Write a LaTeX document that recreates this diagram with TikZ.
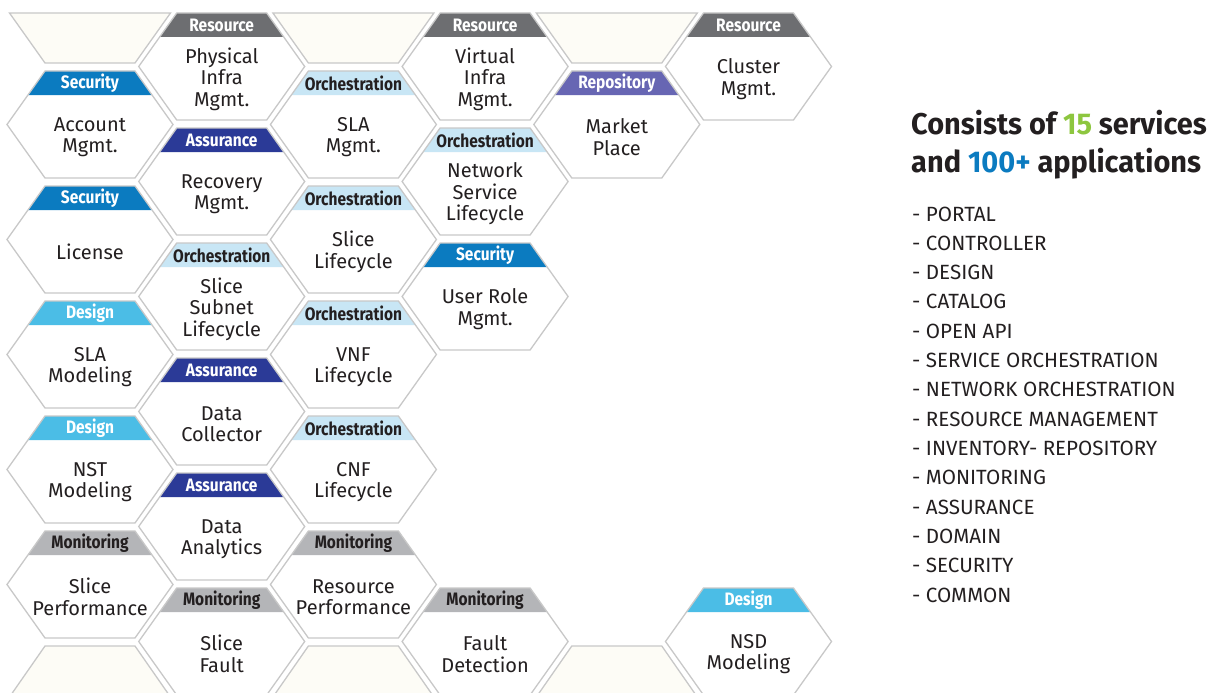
\documentclass[tikz,border=0pt]{standalone}
\usepackage{fontspec}
\setmainfont{Fira Sans}
\newfontfamily\bandfont{Fira Sans}[FakeStretch=0.86]
\newfontfamily\bodyfont{Fira Sans}
\newfontfamily\titlefont{Fira Sans}[FakeStretch=0.965]
\newfontfamily\listfont{Fira Sans}
\definecolor{hexgray}{HTML}{C8C8C8}
\definecolor{cream}{HTML}{FDFCF6}
\definecolor{cRes}{HTML}{6D6E71}
\definecolor{cSec}{HTML}{0B7BC0}
\definecolor{cAsr}{HTML}{2B3A97}
\definecolor{cOrc}{HTML}{C8E6F5}
\definecolor{cRep}{HTML}{6766B3}
\definecolor{cDes}{HTML}{4BBDE6}
\definecolor{cMon}{HTML}{B4B5B8}
\definecolor{ink}{HTML}{231F20}
\definecolor{cGreen}{HTML}{8DC63F}
\definecolor{cBlue}{HTML}{0B7BC0}
\tikzset{
  hexline/.style={draw=hexgray, line width=1.3pt, line join=miter},
  stubfill/.style={fill=cream},
  bandtxt/.style={inner sep=0pt, font=\bandfont\bfseries\fontsize{18}{19}\selectfont},
  bodytxt/.style={inner sep=0pt, align=center, text=ink, font=\bodyfont\fontsize{20}{21.5}\selectfont},
  res band/.style={fill=cRes}, res text/.style={text=white},
  sec band/.style={fill=cSec}, sec text/.style={text=white},
  asr band/.style={fill=cAsr}, asr text/.style={text=white},
  orc band/.style={fill=cOrc}, orc text/.style={text=ink},
  rep band/.style={fill=cRep}, rep text/.style={text=white},
  des band/.style={fill=cDes}, des text/.style={text=white},
  mon band/.style={fill=cMon}, mon text/.style={text=ink},
  listtxt/.style={anchor=west, inner sep=0pt, text=ink, font=\listfont\fontsize{20.6}{22}\selectfont},
  titletxt/.style={anchor=base west, inner sep=0pt, text=ink, font=\titlefont\bfseries\fontsize{30}{32}\selectfont},
}
% name, cx, cy, category, band text, body text
\newcommand\hexcell[6]{%
  \pgfmathsetmacro\hxL{#2-83}\pgfmathsetmacro\hxR{#2+83}%
  \pgfmathsetmacro\hxA{#2-45}\pgfmathsetmacro\hxB{#2+45}%
  \pgfmathsetmacro\hxBL{#2-62}\pgfmathsetmacro\hxBR{#2+62}%
  \pgfmathsetmacro\hyT{#3-53.5}\pgfmathsetmacro\hyB{#3+53.5}%
  \pgfmathsetmacro\hyBB{#3-29.5}\pgfmathsetmacro\hyBC{#3-41.5}\pgfmathsetmacro\hyTC{#3+12.5}%
  \fill[white] (\hxL,#3) -- (\hxA,\hyT) -- (\hxB,\hyT) -- (\hxR,#3) -- (\hxB,\hyB) -- (\hxA,\hyB) -- cycle;
  \fill[#4 band] (\hxA,\hyT) -- (\hxB,\hyT) -- (\hxBR,\hyBB) -- (\hxBL,\hyBB) -- cycle;
  \draw[hexline] (\hxL,#3) -- (\hxA,\hyT) -- (\hxB,\hyT) -- (\hxR,#3) -- (\hxB,\hyB) -- (\hxA,\hyB) -- cycle;
  \node[bandtxt, #4 text] (#1-band) at (#2,\hyBC) {#5};
  \node[bodytxt] (#1) at (#2,\hyTC) {#6};
}
\newcommand\topstub[2]{%
  \pgfmathsetmacro\hxL{#2-80.5}\pgfmathsetmacro\hxR{#2+80.5}%
  \pgfmathsetmacro\hxA{#2-45}\pgfmathsetmacro\hxB{#2+45}%
  \coordinate (#1) at (#2,38);
  \filldraw[hexline, stubfill] (\hxL,13) -- (\hxR,13) -- (\hxB,63) -- (\hxA,63) -- cycle;
}
\newcommand\botstub[2]{%
  \pgfmathsetmacro\hxL{#2-78.4}\pgfmathsetmacro\hxR{#2+78.4}%
  \pgfmathsetmacro\hxA{#2-45}\pgfmathsetmacro\hxB{#2+45}%
  \coordinate (#1) at (#2,670);
  \fill[stubfill] (\hxL,694) -- (\hxA,646) -- (\hxB,646) -- (\hxR,694) -- cycle;
  \draw[hexline] (\hxL,694) -- (\hxA,646) -- (\hxB,646) -- (\hxR,694);
}
\begin{document}
\begin{tikzpicture}[x=1pt,y=-1pt]
\useasboundingbox (0,0) rectangle (1218,693);
\begin{scope}
\clip (0,0) rectangle (1218,693);
% column 0
\topstub{s0t}{90}
\hexcell{acct}{90}{124.5}{sec}{Security}{Account\\Mgmt.}
\hexcell{lic}{90}{239.5}{sec}{Security}{License}
\hexcell{slamod}{90}{354.5}{des}{Design}{SLA\\Modeling}
\hexcell{nstmod}{90}{469.5}{des}{Design}{NST\\Modeling}
\hexcell{sperf}{90}{584.5}{mon}{Monitoring}{Slice\\Performance}
\botstub{s0b}{90}
% column 1
\hexcell{phys}{221.7}{66.5}{res}{Resource}{Physical\\Infra\\Mgmt.}
\hexcell{recov}{221.7}{181.5}{asr}{Assurance}{Recovery\\Mgmt.}
\hexcell{ssl}{221.7}{296.5}{orc}{Orchestration}{Slice\\Subnet\\Lifecycle}
\hexcell{dcol}{221.7}{411.5}{asr}{Assurance}{Data\\Collector}
\hexcell{dana}{221.7}{526.5}{asr}{Assurance}{Data\\Analytics}
\hexcell{sfault}{221.7}{641.5}{mon}{Monitoring}{Slice\\Fault}
% column 2
\topstub{s2t}{353.4}
\hexcell{slam}{353.4}{124.5}{orc}{Orchestration}{SLA\\Mgmt.}
\hexcell{slicelc}{353.4}{239.5}{orc}{Orchestration}{Slice\\Lifecycle}
\hexcell{vnf}{353.4}{354.5}{orc}{Orchestration}{VNF\\Lifecycle}
\hexcell{cnf}{353.4}{469.5}{orc}{Orchestration}{CNF\\Lifecycle}
\hexcell{rperf}{353.4}{584.5}{mon}{Monitoring}{Resource\\Performance}
\botstub{s2b}{353.4}
% column 3
\hexcell{virt}{485.1}{66.5}{res}{Resource}{Virtual\\Infra\\Mgmt.}
\hexcell{nslc}{485.1}{181.5}{orc}{Orchestration}{Network\\Service\\Lifecycle}
\hexcell{urole}{485.1}{296.5}{sec}{Security}{User Role\\Mgmt.}
\hexcell{fdet}{485.1}{641.5}{mon}{Monitoring}{Fault\\Detection}
% column 4
\topstub{s4t}{616.8}
\hexcell{market}{616.8}{124.5}{rep}{Repository}{Market\\Place}
\botstub{s4b}{616.8}
% column 5
\hexcell{cluster}{748.5}{66.5}{res}{Resource}{Cluster\\Mgmt.}
\hexcell{nsd}{748.5}{641.5}{des}{Design}{NSD\\Modeling}
\end{scope}
% right side
\node[titletxt] (t1) at (911,134) {Consists of \textcolor{cGreen}{15} services};
\node[titletxt] (t2) at (911,172) {and \textcolor{cBlue}{100+} applications};
\foreach \item [count=\i from 0] in {PORTAL, CONTROLLER, DESIGN, CATALOG, OPEN API, SERVICE ORCHESTRATION, NETWORK ORCHESTRATION, RESOURCE MANAGEMENT, INVENTORY- REPOSITORY, MONITORING, ASSURANCE, DOMAIN, SECURITY, COMMON}{
  \node[listtxt] (li\i) at (912,{214+29.3*\i}) {- \item};
}
\end{tikzpicture}
\end{document}
